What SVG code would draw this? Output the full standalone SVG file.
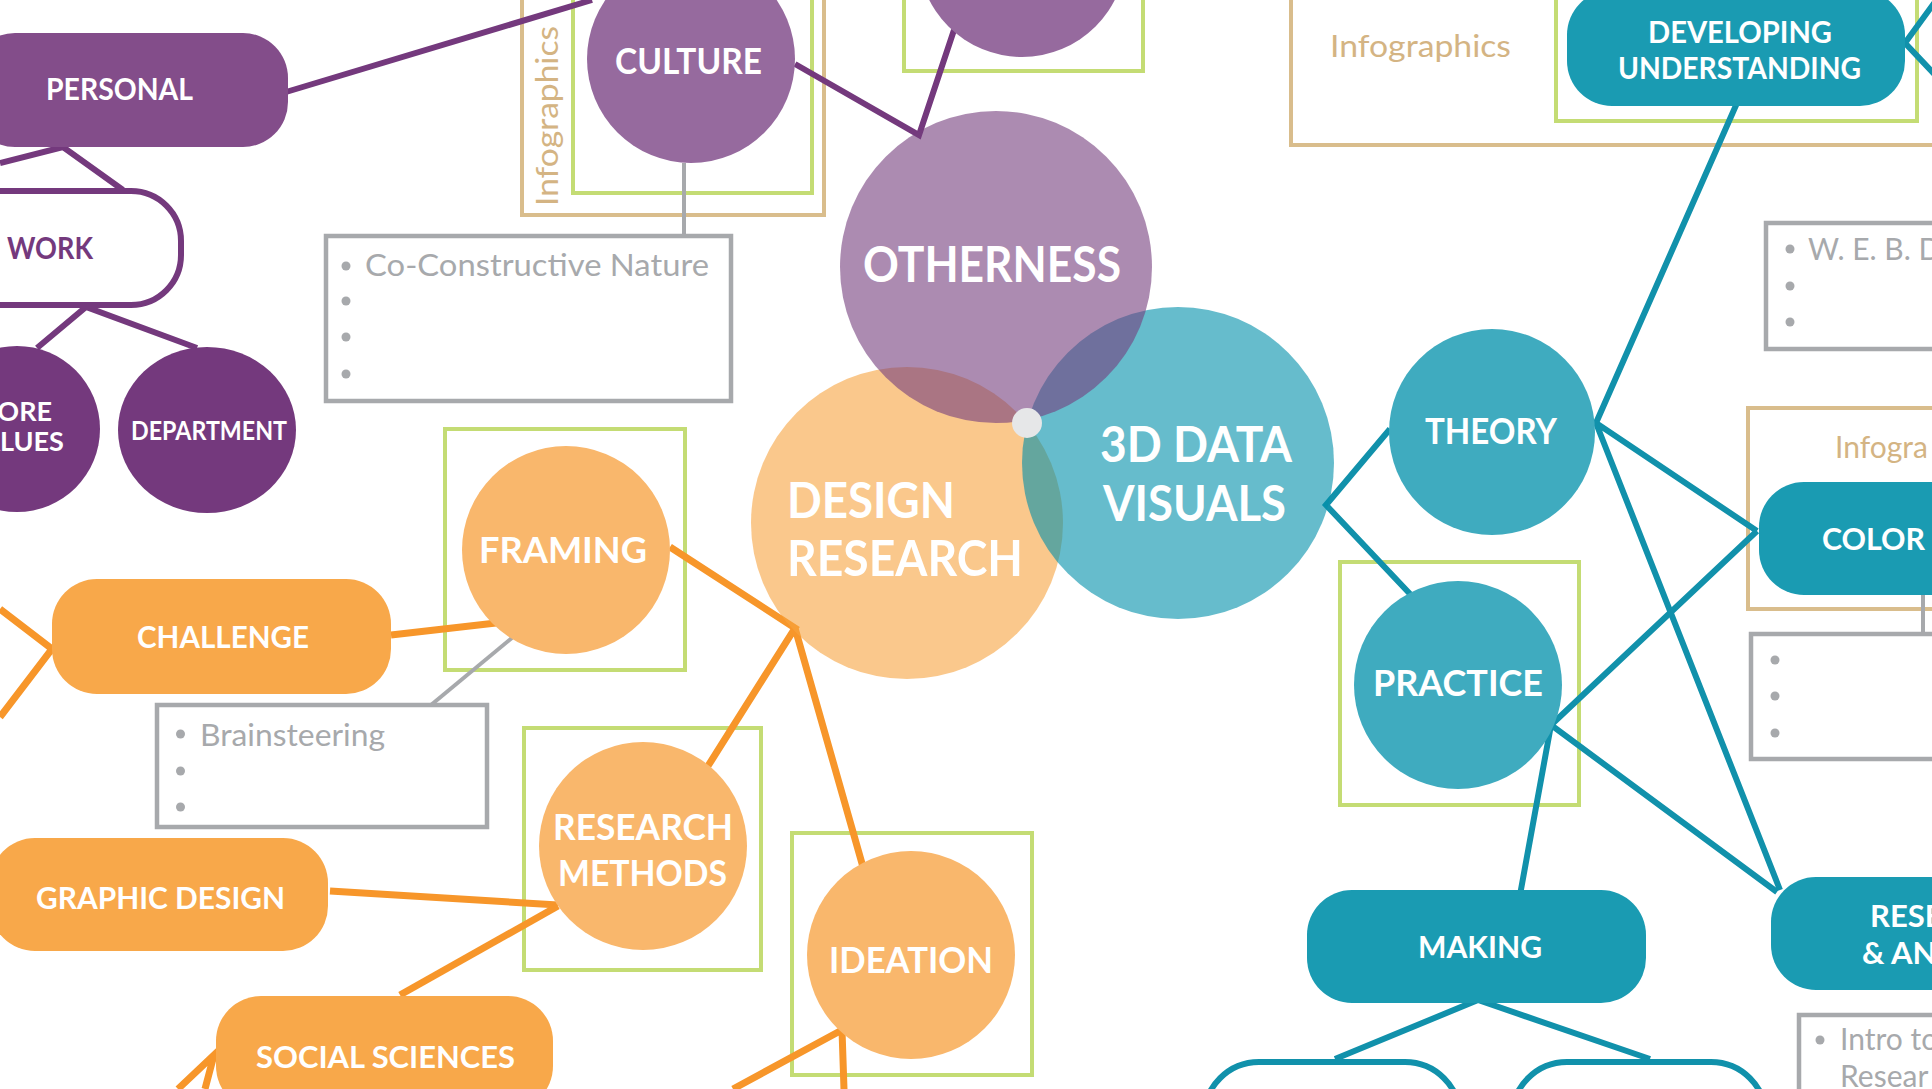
<svg xmlns="http://www.w3.org/2000/svg" width="1932" height="1089" viewBox="0 0 1932 1089">
<style>
.t{font-family:Lato,"Liberation Sans",sans-serif;font-weight:700;fill:#fff}
.big{font-size:50px}
.mid{font-size:36px}
.sm{font-size:31px}
.xs{font-size:27px}
.pw{fill:#74397d}
.note{font-family:Lato,"Liberation Sans",sans-serif;font-weight:400;font-size:30px;fill:#a7a9ac}
.info{font-family:Lato,"Liberation Sans",sans-serif;font-weight:400;font-size:30px;fill:#d4b483}
.gbox{fill:none;stroke:#c4dc74;stroke-width:4}
.tbox{fill:none;stroke:#d9bd8c;stroke-width:4}
.nbox{fill:#fff;stroke:#a7a9ac;stroke-width:4.5}
.dot{fill:#a7a9ac}
.cp{fill:none;stroke:#74397d;stroke-width:6;stroke-linejoin:miter}
.co{fill:none;stroke:#f7962a;stroke-width:7;stroke-linejoin:miter}
.ct{fill:none;stroke:#1191ab;stroke-width:6;stroke-linejoin:miter}
.cg{fill:none;stroke:#a7a9ac;stroke-width:4}
.purpleL{fill:#966a9e}
.purpleP{fill:#834d8a}
.purpleD{fill:#74397d}
.orangeC{fill:#f9b76c}
.orangeP{fill:#f8a84a}
.tealC{fill:#3fabbf}
.tealP{fill:#1a9bb2}
.outP{fill:#fff;stroke:#74397d;stroke-width:6}
.outT{fill:#fff;stroke:#1191ab;stroke-width:6}
</style>
<rect width="1932" height="1089" fill="#fff"/>

<g id="frames">
<rect class="tbox" x="522" y="-10" width="302" height="225"/>
<rect class="gbox" x="573" y="-10" width="239" height="203"/>
<rect class="gbox" x="904" y="-10" width="239" height="81"/>
<rect class="tbox" x="1291" y="-10" width="700" height="155"/>
<rect class="gbox" x="1556" y="-10" width="361" height="131"/>
<rect class="tbox" x="1748" y="408" width="250" height="201"/>
<rect class="gbox" x="445" y="429" width="240" height="241"/>
<rect class="gbox" x="524" y="728" width="237" height="242"/>
<rect class="gbox" x="792" y="833" width="240" height="242"/>
<rect class="gbox" x="1340" y="562" width="239" height="243"/>
<text class="info" transform="translate(557.6,206) rotate(-90)" textLength="180" lengthAdjust="spacingAndGlyphs">Infographics</text>
<text class="info" x="1330" y="57" textLength="181" lengthAdjust="spacingAndGlyphs">Infographics</text>
<text class="info" x="1835" y="458">Infogra</text>
</g>

<g id="connectors">
<path class="cp" d="M286,92 L592,0"/>
<path class="cp" d="M0,163 L63,147 L123,190"/>
<path class="cp" d="M37,348 L86,307 L197,348"/>
<path class="cp" d="M795,64 L919,135 L954,30"/>
<path class="co" d="M0,609 L52,649 L0,717"/>
<path class="co" d="M391,635 L496,623"/>
<path class="co" d="M670,547 L795,628 L708,766 M795,628 L863,867"/>
<path class="co" d="M330,891 L558,905"/>
<path class="co" d="M400,995 L558,906"/>
<path class="co" d="M178,1089 L214,1055 L205,1089"/>
<path class="co" d="M733,1089 L842,1030 L844,1089"/>
<path class="ct" d="M1390,429 L1326,505 L1411,595"/>
<path class="ct" d="M1737,103 L1596,423 L1757,531 M1596,423 L1780,890"/>
<path class="ct" d="M1757,531 L1551,725 L1777,892 M1551,725 L1520,895"/>
<path class="ct" d="M1335,1059 L1478,1000 L1650,1059"/>
<path class="ct" d="M1940,-5 L1905,43 L1940,80"/>
<path class="cg" d="M684,163 L684,236"/>
<path class="cg" d="M513,637 L431,705"/>
<path class="cg" d="M1923,595 L1923,634"/>
</g>

<g id="n-design-research">
<circle cx="907" cy="523" r="156" fill="#f7a33f" opacity="0.6"/>
</g>
<g id="n-3d-data">
<circle cx="1178" cy="463" r="156" fill="#008faa" opacity="0.6"/>
</g>
<g id="n-otherness">
<circle cx="996" cy="267" r="156" fill="#753d7d" opacity="0.6"/>
</g>
<g id="center-dot"><circle cx="1027" cy="423" r="15" fill="#e6e7e8"/></g>
<g id="big-labels">
<text class="t big" x="863" y="282" textLength="258" lengthAdjust="spacingAndGlyphs">OTHERNESS</text>
<text class="t big" x="787" y="518" textLength="168" lengthAdjust="spacingAndGlyphs">DESIGN</text>
<text class="t big" x="787" y="576" textLength="236" lengthAdjust="spacingAndGlyphs">RESEARCH</text>
<text class="t big" x="1100" y="462" textLength="192" lengthAdjust="spacingAndGlyphs">3D DATA</text>
<text class="t big" x="1103" y="521" textLength="183" lengthAdjust="spacingAndGlyphs">VISUALS</text>
</g>

<g id="n-culture">
<circle class="purpleL" cx="691" cy="59" r="104"/>
<text class="t mid" x="615" y="74" textLength="147" lengthAdjust="spacingAndGlyphs">CULTURE</text>
</g>
<g id="n-top-purple">
<circle class="purpleL" cx="1022" cy="-47" r="104"/>
</g>
<g id="n-personal">
<rect class="purpleP" x="-30" y="33" width="318" height="114" rx="45"/>
<text class="t sm" x="46" y="100" textLength="147" lengthAdjust="spacingAndGlyphs">PERSONAL</text>
</g>
<g id="n-work">
<rect class="outP" x="-60" y="191" width="241" height="114" rx="50"/>
<text class="t sm pw" x="7" y="259" textLength="86" lengthAdjust="spacingAndGlyphs">WORK</text>
</g>
<g id="n-core-values">
<circle class="purpleD" cx="17" cy="429" r="83"/>
<text class="t xs" x="16" y="421" text-anchor="middle">CORE</text>
<text class="t xs" x="14" y="451" text-anchor="middle">VALUES</text>
</g>
<g id="n-department">
<ellipse class="purpleD" cx="207" cy="430" rx="89" ry="83"/>
<text class="t xs" x="131" y="440" textLength="156" lengthAdjust="spacingAndGlyphs">DEPARTMENT</text>
</g>
<g id="n-coconstructive">
<rect class="nbox" x="326" y="236" width="405" height="165"/>
<circle class="dot" cx="346" cy="266" r="4.5"/>
<circle class="dot" cx="346" cy="301" r="4.5"/>
<circle class="dot" cx="346" cy="337" r="4.5"/>
<circle class="dot" cx="346" cy="374" r="4.5"/>
<text class="note" x="365" y="276" textLength="344" lengthAdjust="spacingAndGlyphs">Co-Constructive Nature</text>
</g>

<g id="n-framing">
<circle class="orangeC" cx="566" cy="550" r="104"/>
<text class="t mid" x="479" y="563" textLength="168" lengthAdjust="spacingAndGlyphs">FRAMING</text>
</g>
<g id="n-challenge">
<rect class="orangeP" x="52" y="579" width="339" height="115" rx="45"/>
<text class="t sm" x="137" y="648" textLength="172" lengthAdjust="spacingAndGlyphs">CHALLENGE</text>
</g>
<g id="n-brainsteering">
<rect class="nbox" x="157" y="705" width="330" height="122"/>
<circle class="dot" cx="180.5" cy="734" r="4.5"/>
<circle class="dot" cx="180.5" cy="771" r="4.5"/>
<circle class="dot" cx="180.5" cy="807" r="4.5"/>
<text class="note" x="200" y="746" textLength="185" lengthAdjust="spacingAndGlyphs">Brainsteering</text>
</g>
<g id="n-graphic-design">
<rect class="orangeP" x="-10" y="838" width="338" height="113" rx="45"/>
<text class="t sm" x="36" y="909" textLength="249" lengthAdjust="spacingAndGlyphs">GRAPHIC DESIGN</text>
</g>
<g id="n-research-methods">
<circle class="orangeC" cx="643" cy="846" r="104"/>
<text class="t mid" x="553" y="840" textLength="180" lengthAdjust="spacingAndGlyphs">RESEARCH</text>
<text class="t mid" x="558" y="886" textLength="169" lengthAdjust="spacingAndGlyphs">METHODS</text>
</g>
<g id="n-ideation">
<circle class="orangeC" cx="911" cy="955" r="104"/>
<text class="t mid" x="829" y="973" textLength="164" lengthAdjust="spacingAndGlyphs">IDEATION</text>
</g>
<g id="n-social-sciences">
<rect class="orangeP" x="216" y="996" width="337" height="115" rx="45"/>
<text class="t sm" x="256" y="1068" textLength="259" lengthAdjust="spacingAndGlyphs">SOCIAL SCIENCES</text>
</g>

<g id="n-theory">
<circle class="tealC" cx="1492" cy="432" r="103"/>
<text class="t mid" x="1425" y="444" textLength="132" lengthAdjust="spacingAndGlyphs">THEORY</text>
</g>
<g id="n-practice">
<circle class="tealC" cx="1458" cy="685" r="104"/>
<text class="t mid" x="1373" y="696" textLength="170" lengthAdjust="spacingAndGlyphs">PRACTICE</text>
</g>
<g id="n-developing">
<rect class="tealP" x="1567" y="-10" width="338" height="116" rx="45"/>
<text class="t sm" x="1648" y="43" textLength="184" lengthAdjust="spacingAndGlyphs">DEVELOPING</text>
<text class="t sm" x="1618" y="79" textLength="243" lengthAdjust="spacingAndGlyphs">UNDERSTANDING</text>
</g>
<g id="n-web">
<rect class="nbox" x="1766" y="223" width="200" height="126"/>
<circle class="dot" cx="1790" cy="249" r="4.5"/>
<circle class="dot" cx="1790" cy="286" r="4.5"/>
<circle class="dot" cx="1790" cy="322" r="4.5"/>
<text class="note" x="1808" y="260">W. E. B. D</text>
</g>
<g id="n-color">
<rect class="tealP" x="1759" y="482" width="250" height="113" rx="45"/>
<text class="t sm" x="1822" y="550" textLength="103" lengthAdjust="spacingAndGlyphs">COLOR</text>
</g>
<g id="n-color-notes">
<rect class="nbox" x="1751" y="634" width="200" height="125"/>
<circle class="dot" cx="1775" cy="660" r="4.5"/>
<circle class="dot" cx="1775" cy="696" r="4.5"/>
<circle class="dot" cx="1775" cy="733" r="4.5"/>
</g>
<g id="n-research-analysis">
<rect class="tealP" x="1771" y="877" width="250" height="113" rx="45"/>
<text class="t sm" x="1870" y="927">RESE</text>
<text class="t sm" x="1862" y="964">&amp; AN</text>
</g>
<g id="n-intro">
<rect class="nbox" x="1799" y="1015" width="200" height="100"/>
<circle class="dot" cx="1820" cy="1040" r="4.5"/>
<text class="note" x="1840" y="1050">Intro to</text>
<text class="note" x="1840" y="1087">Resear</text>
</g>
<g id="n-making">
<rect class="tealP" x="1307" y="890" width="339" height="113" rx="45"/>
<text class="t sm" x="1418" y="958" textLength="124" lengthAdjust="spacingAndGlyphs">MAKING</text>
</g>
<g id="n-making-left">
<rect class="outT" x="1204" y="1062" width="256" height="120" rx="55"/>
</g>
<g id="n-making-right">
<rect class="outT" x="1512" y="1062" width="254" height="120" rx="55"/>
</g>
</svg>
